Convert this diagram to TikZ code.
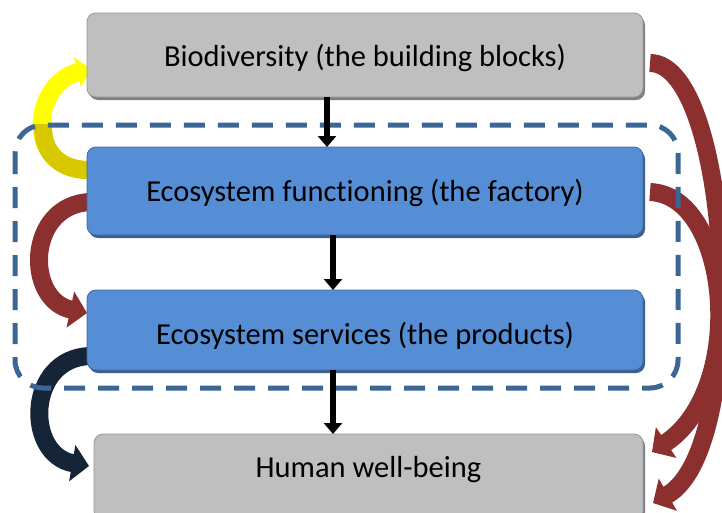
\documentclass[tikz,border=0pt]{standalone}
\usepackage{fontspec}
\setmainfont{Carlito}[Ligatures=NoCommon]
\usetikzlibrary{arrows.meta,shadows}
\pgfdeclarelayer{back}
\pgfsetlayers{back,main}
\definecolor{boxgray}{RGB}{191,191,191}
\definecolor{grayedge}{RGB}{150,150,150}
\definecolor{grayshadow}{RGB}{128,128,128}
\definecolor{boxblue}{RGB}{85,142,213}
\definecolor{blueedge}{RGB}{65,105,160}
\definecolor{blueshadow}{RGB}{62,95,140}
\definecolor{dashblue}{RGB}{60,102,150}
\definecolor{arrowred}{RGB}{140,47,47}
\definecolor{arrownavy}{RGB}{22,36,56}
\definecolor{yellowA}{RGB}{255,255,0}
\definecolor{yellowB}{RGB}{215,200,0}
\tikzset{
  box/.style={rounded corners=9pt, minimum width=556pt, inner sep=0pt, outer sep=0pt,
    font=\fontsize{30.5}{36}\selectfont, text=black, line width=0.8pt},
  graybox/.style={box, fill=boxgray, draw=grayedge,
    drop shadow={shadow xshift=2pt, shadow yshift=-3pt, fill=grayshadow, opacity=1}},
  bluebox/.style={box, fill=boxblue, draw=blueedge,
    drop shadow={shadow xshift=2pt, shadow yshift=-3pt, fill=blueshadow, opacity=1}},
  flow/.style={line width=5.5pt, black, -{Triangle[width=18pt,length=11pt]}},
  bendarrow/.style={line width=18pt, -{Triangle[width=36pt,length=17pt]}},
  groupline/.style={draw=dashblue, line width=5pt, dash pattern=on 21pt off 13pt, rounded corners=28pt}
}
\begin{document}
\begin{tikzpicture}[x=1pt,y=-1pt]
\begin{pgfonlayer}{back}
\fill[white] (0,0) rectangle (722,512);
\end{pgfonlayer}
\useasboundingbox (0,0) rectangle (722,512);

% boxes
\node[graybox, minimum height=84pt, text height=23pt, text depth=0pt] (bio) at (365,55) {Biodiversity (the building blocks)};
\node[bluebox, minimum height=88pt, text height=22pt, text depth=1pt] (ef) at (365,191) {Ecosystem functioning (the factory)};
\node[bluebox, minimum height=80pt, text height=29pt, text depth=0pt] (es) at (365,330) {Ecosystem services (the products)};
\node[graybox, minimum width=549pt, minimum height=86pt, text height=22pt, text depth=22pt] (hwb) at (368.5,477) {Human well-being};

\begin{pgfonlayer}{back}
% curved arrows (left)
\draw[bendarrow, yellowA, -{Triangle[width=30pt,length=14pt]}] ([yshift=21pt]ef.west) .. controls +(-64,-2) and +(-58,14) .. ([xshift=4pt,yshift=-14pt]bio.west);
\begin{scope}
  \clip (0,124) rectangle (95,200);
  \draw[line width=18pt, yellowB] ([yshift=21pt]ef.west) .. controls +(-64,-2) and +(-58,14) .. ([xshift=4pt,yshift=-14pt]bio.west);
\end{scope}
\draw[bendarrow, arrowred] ([xshift=3pt,yshift=-11pt]ef.west) .. controls +(-64,3) and +(-62,-13) .. ([yshift=17pt]es.west);
\draw[bendarrow, arrownavy] ([xshift=3pt,yshift=-26pt]es.west) .. controls +(-64,2) and +(-64,-11) .. ([xshift=-5pt,yshift=11pt]hwb.west);

% curved arrows (right)
\draw[bendarrow, arrowred] ([xshift=7pt,yshift=-8pt]bio.east) .. controls +(82,0) and +(98,-55) .. ([xshift=10pt,yshift=-26pt]hwb.east);
\draw[bendarrow, arrowred] ([xshift=7pt,yshift=-1pt]ef.east) .. controls +(80,3) and +(96,-64) .. ([xshift=9pt,yshift=25pt]hwb.east);
\end{pgfonlayer}

% dashed group
\draw[groupline] (15,125) rectangle (678,388);

% straight arrows
\draw[flow] ([xshift=-38pt]bio.south) -- ([xshift=-38pt]ef.north);
\draw[flow] ([xshift=-32pt]ef.south) -- ([xshift=-32pt]es.north);
\draw[flow] ([xshift=-32pt]es.south) -- ([xshift=-35.5pt]hwb.north);
\end{tikzpicture}
\end{document}
